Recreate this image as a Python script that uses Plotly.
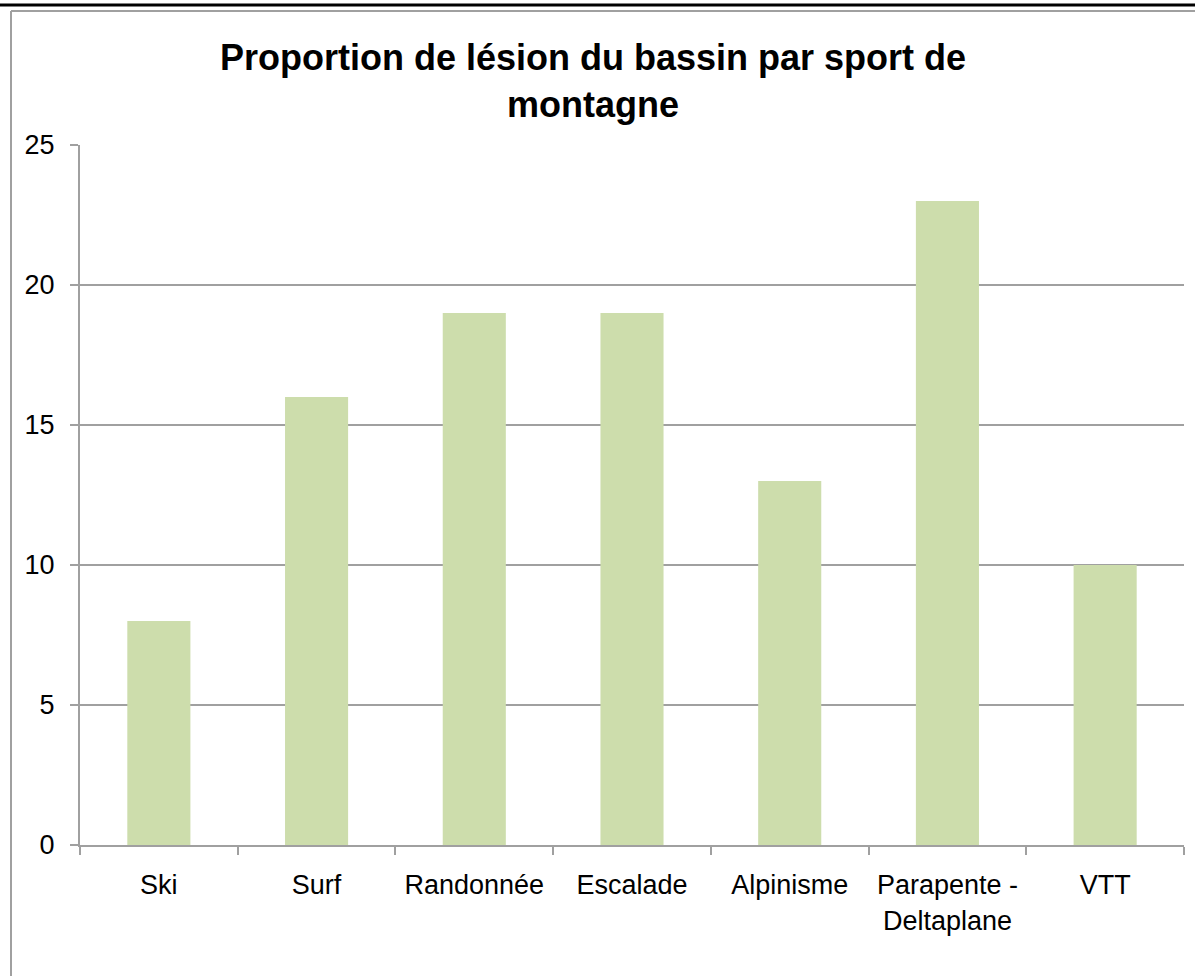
import plotly.graph_objects as go

categories = ["Ski", "Surf", "Randonnée", "Escalade", "Alpinisme", "Parapente -<br>Deltaplane", "VTT"]
values = [8, 16, 19, 19, 13, 23, 10]
y_ticks = [0, 5, 10, 15, 20, 25]

W, H = 1195, 976
L, R, T, B = 80, 11, 145, 131
PW, PH = W - L - R, H - T - B

def px(x):
    return (x - L) / PW

def py(y):
    return (H - B - y) / PH

fig = go.Figure(go.Bar(
    x=categories, y=values,
    marker=dict(color="#CDDDAC", line=dict(width=0)),
    hoverinfo="x+y",
))

fig.update_layout(
    width=W, height=H,
    margin=dict(l=L, r=R, t=T, b=B, autoexpand=False),
    paper_bgcolor="white", plot_bgcolor="white",
    bargap=0.6,
    showlegend=False,
    font=dict(family="Liberation Sans, Arial, sans-serif", color="black", size=27),
    title=dict(
        text="<b>Proportion de lésion du bassin par sport de<br>montagne</b>",
        x=593 / W, xanchor="center", xref="container",
        y=1 - 70 / H, yanchor="middle", yref="container",
        font=dict(size=36, family="Liberation Sans, Arial, sans-serif", color="black"),
    ),
    xaxis=dict(
        type="category",
        tickson="boundaries",
        ticks="outside", ticklen=8, tickwidth=2, tickcolor="#A0A0A0",
        showline=True, linecolor="#A0A0A0", linewidth=2,
        showgrid=False,
        tickfont=dict(size=27),
        ticklabelstandoff=15,
    ),
    yaxis=dict(
        range=[0, 25],
        tickvals=y_ticks,
        ticks="outside", ticklen=8, tickwidth=2, tickcolor="#A0A0A0",
        showline=True, linecolor="#A0A0A0", linewidth=2,
        showgrid=True, gridcolor="#A0A0A0", gridwidth=2,
        zeroline=False,
        tickfont=dict(size=27),
        ticklabelstandoff=10,
    ),
    shapes=[
        dict(type="line", xref="paper", yref="paper",
             x0=px(0), x1=px(W), y0=py(5), y1=py(5),
             line=dict(color="black", width=3)),
        dict(type="line", xref="paper", yref="paper",
             x0=px(11), x1=px(W), y0=py(11), y1=py(11),
             line=dict(color="#A0A0A0", width=2)),
        dict(type="line", xref="paper", yref="paper",
             x0=px(11), x1=px(11), y0=py(11), y1=py(H),
             line=dict(color="#A0A0A0", width=2)),
    ],
)

fig.write_html("out.html", config={"displayModeBar": False},
               post_script="document.body.style.margin='0';")
